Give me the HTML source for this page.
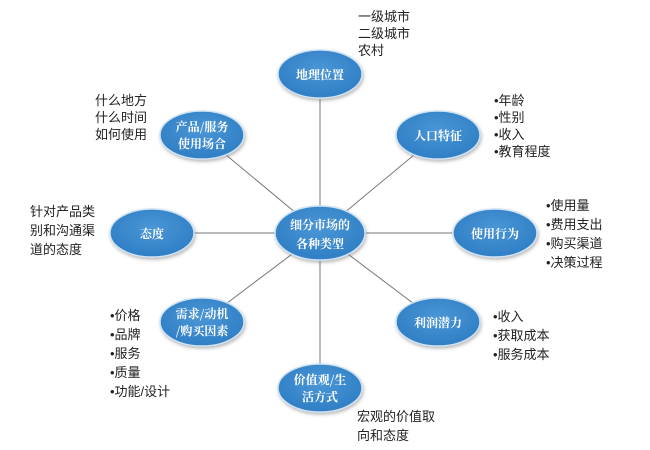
<!DOCTYPE html>
<html><head><meta charset="utf-8"><style>
body{margin:0;width:650px;height:450px;background:#fff;position:relative;overflow:hidden;font-family:"Liberation Sans","Noto Sans CJK SC",sans-serif;}
.t{position:absolute;font-size:13px;line-height:17px;color:#222;white-space:nowrap}
</style></head><body>
<svg width="650" height="450" style="position:absolute;left:0;top:0">
<defs><radialGradient id="g" cx="50%" cy="40%" r="60%"><stop offset="0" stop-color="#4a96d6"/><stop offset="1" stop-color="#2f7ec4"/></radialGradient>
<filter id="s" x="-20%" y="-20%" width="140%" height="150%"><feDropShadow dx="1" dy="2" stdDeviation="1.5" flood-color="#777" flood-opacity="0.5"/></filter></defs>
<g stroke="#777" stroke-width="1">
<line x1="320" y1="233" x2="320" y2="74"/><line x1="320" y1="233" x2="438" y2="135"/>
<line x1="320" y1="233" x2="495" y2="233"/><line x1="320" y1="233" x2="438" y2="322"/>
<line x1="320" y1="233" x2="320" y2="388"/><line x1="320" y1="233" x2="202" y2="322"/>
<line x1="320" y1="233" x2="152" y2="233"/><line x1="320" y1="233" x2="202" y2="135"/>
</g>
<g fill="url(#g)" stroke="#cfe3f4" stroke-width="1.5" filter="url(#s)">
<ellipse cx="320" cy="233" rx="45" ry="27"/>
<ellipse cx="320" cy="74" rx="42" ry="24"/>
<ellipse cx="438" cy="135" rx="42" ry="24"/>
<ellipse cx="495" cy="233" rx="42" ry="24"/>
<ellipse cx="438" cy="322" rx="42" ry="24"/>
<ellipse cx="320" cy="388" rx="42" ry="24"/>
<ellipse cx="202" cy="322" rx="42" ry="24"/>
<ellipse cx="152" cy="233" rx="42" ry="24"/>
<ellipse cx="202" cy="135" rx="42" ry="24"/>
</g>
<g fill="#fff" font-family="'Noto Serif CJK SC',serif" font-weight="bold" font-size="12" text-anchor="middle">
<text x="320" y="229">细分市场的</text><text x="320" y="248">各种类型</text>
<text x="320" y="79">地理位置</text>
<text x="438" y="140">人口特征</text>
<text x="495" y="238">使用行为</text>
<text x="438" y="327">利润潜力</text>
<text x="320" y="384">价值观/生</text><text x="320" y="401">活方式</text>
<text x="202" y="318">需求/动机</text><text x="202" y="335">/购买因素</text>
<text x="152" y="238">态度</text>
<text x="202" y="131">产品/服务</text><text x="202" y="148">使用场合</text>
</g>
</svg>
<div class="t" style="left:358px;top:8px">一级城市<br>二级城市<br>农村</div>
<div class="t" style="left:95px;top:92px">什么地方<br>什么时间<br>如何使用</div>
<div class="t" style="left:494px;top:92px">•年龄<br>•性别<br>•收入<br>•教育程度</div>
<div class="t" style="left:30px;top:202px;line-height:19px">针对产品类<br>别和沟通渠<br>道的态度</div>
<div class="t" style="left:546px;top:196px;line-height:19px">•使用量<br>•费用支出<br>•购买渠道<br>•决策过程</div>
<div class="t" style="left:493px;top:307px;line-height:19px">•收入<br>•获取成本<br>•服务成本</div>
<div class="t" style="left:110px;top:306px;line-height:19px">•价格<br>•品牌<br>•服务<br>•质量<br>•功能/设计</div>
<div class="t" style="left:357px;top:407px;line-height:19px">宏观的价值取<br>向和态度</div>
</body></html>
